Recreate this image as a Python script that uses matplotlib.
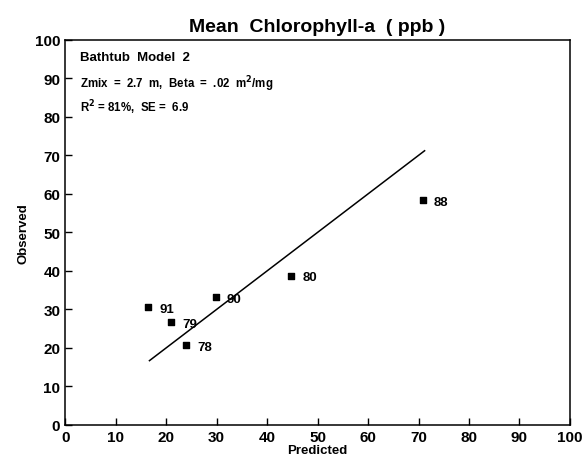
import numpy as np
import matplotlib
matplotlib.use("Agg")
import matplotlib.pyplot as plt

plt.rcParams['font.family'] = ['Liberation Sans', 'DejaVu Sans']
plt.rcParams['font.weight'] = 'bold'

# observed vs predicted chlorophyll-a
years = ['91', '79', '78', '90', '80', '88']
predicted = [16.5, 21.0, 24.0, 29.8, 44.8, 70.8]
observed = [30.5, 26.8, 20.8, 33.2, 38.8, 58.3]
fit_x = [16.7, 71.2]
fit_y = [16.7, 71.2]

fig = plt.figure(figsize=(5.87, 4.64), dpi=100)
ax = fig.add_axes([0.111, 0.082, 0.86, 0.83])

ax.plot(fit_x, fit_y, color='black', lw=1.1)
ax.scatter(predicted, observed, marker='s', s=24, color='black', zorder=3)
for x, y, lab in zip(predicted, observed, years):
    ax.annotate(lab, (x, y), xytext=(8, -3.5), textcoords='offset points',
                fontsize=9.5, fontweight='bold')

ax.set_xlim(0, 100)
ax.set_ylim(0, 100)
ax.set_xticks(np.arange(0, 101, 10))
ax.set_yticks(np.arange(0, 101, 10))
ax.tick_params(direction='in', length=5, width=1, labelsize=11)
for lbl in ax.get_xticklabels() + ax.get_yticklabels():
    lbl.set_fontweight('bold')
for s in ax.spines.values():
    s.set_linewidth(1.1)

ax.set_xlabel('Predicted', fontsize=9.5, fontweight='bold', labelpad=0)
ax.set_ylabel('Observed', fontsize=9.5, fontweight='bold', labelpad=4)
ax.set_title('Mean  Chlorophyll-a  ( ppb )', fontsize=14, fontweight='bold', pad=6)

ax.text(0.03, 0.956, 'Bathtub  Model  2', transform=ax.transAxes,
        fontsize=9.5, fontweight='bold', va='center')
ax.text(0.03, 0.888, r'Zmix  =  2.7  m,  Beta  =  .02  m$^2$/mg', transform=ax.transAxes,
        fontsize=8.3, fontweight='bold', va='center')
ax.text(0.03, 0.826, r'R$^2$ = 81%,  SE =  6.9', transform=ax.transAxes,
        fontsize=8.3, fontweight='bold', va='center')

fig.savefig('out.png', dpi=100)
